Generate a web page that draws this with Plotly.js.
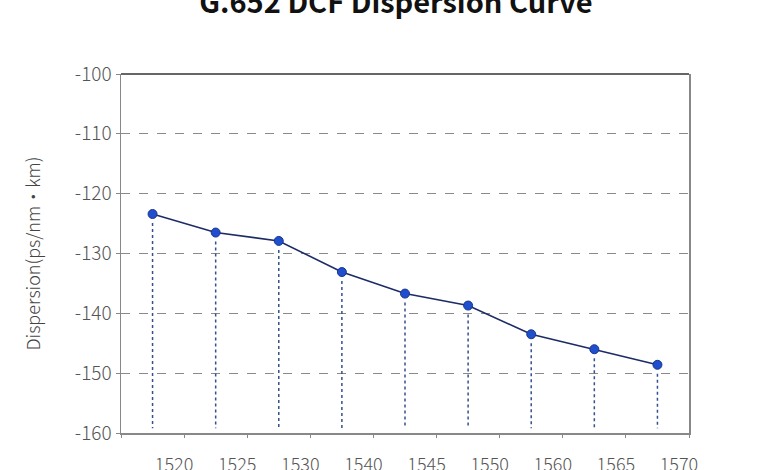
<!DOCTYPE html>
<html>
<head>
<meta charset="utf-8">
<script src="https://cdn.plot.ly/plotly-3.0.1.min.js"></script>
<style>html,body{margin:0;padding:0;background:#fff;}#chart{width:768px;height:470px;}</style>
</head>
<body>
<div id="chart"></div>
<script>
const wavelengths = ["1520", "1525", "1530", "1540", "1545", "1550", "1560", "1565", "1570"];
const dispersion = [-123.4, -126.5, -127.9, -133.1, -136.7, -138.7, -143.5, -146.0, -148.6];
const yTicks = [-160, -150, -140, -130, -120, -110, -100];

const idx = wavelengths.map((_, i) => i);

// vertical dotted drop lines from each point to the axis
const dropX = [], dropY = [];
idx.forEach((i) => {
  dropX.push(i, i, null);
  dropY.push(dispersion[i] - 1.5, -159.2, null);
});

const traces = [
  {
    x: dropX, y: dropY, mode: 'lines', type: 'scatter',
    line: {color: '#34508f', width: 1.5, dash: 'dot'},
    hoverinfo: 'skip', showlegend: false
  },
  {
    x: idx, y: dispersion, mode: 'lines+markers', type: 'scatter',
    line: {color: '#1c2c66', width: 1.6},
    marker: {size: 9, color: '#1f4fcc', line: {color: '#1a3590', width: 1}},
    showlegend: false
  }
];

const tickPos = [-0.5].concat(idx.map(i => i + 0.5));
const tickTxt = [''].concat(wavelengths);

const layout = {
  width: 768, height: 470,
  margin: {l: 121, r: 79, t: 74, b: 37},
  paper_bgcolor: '#fff', plot_bgcolor: '#fff',
  font: {family: '"Noto Sans CJK SC", "Noto Sans", sans-serif', color: '#555'},
  title: {
    text: '<b>G.652 DCF Dispersion Curve</b>',
    font: {size: 29, color: '#111', family: '"Noto Sans CJK SC", "Noto Sans", sans-serif'},
    x: 0.484, xanchor: 'center', xref: 'paper',
    y: 1 - 13/470, yref: 'container', yanchor: 'bottom'
  },
  xaxis: {
    range: [-0.5, 8.5], tickmode: 'array', tickvals: tickPos, ticktext: tickTxt,
    showgrid: false, zeroline: false,
    showline: true, linecolor: '#888', linewidth: 1.5,
    ticks: 'outside', ticklen: 3, tickcolor: '#888', tickwidth: 1,
    ticklabelshift: -10, ticklabelstandoff: 12,
    tickfont: {size: 18, color: '#555', weight: 300}
  },
  yaxis: {
    range: [-160, -100], tickmode: 'array', tickvals: yTicks,
    ticktext: yTicks.map(v => String(v)),
    showgrid: true, gridcolor: '#8a8a8a', griddash: 'dash', gridwidth: 1,
    zeroline: false,
    showline: true, linecolor: '#888', linewidth: 1.5, mirror: true,
    ticks: 'outside', ticklen: 4, tickcolor: '#888',
    tickfont: {size: 19, color: '#555', weight: 300},
    title: {text: 'Dispersion(ps/nm·km)', font: {size: 18, color: '#444', weight: 300}, standoff: 29}
  },
  shapes: [
    {type: 'line', xref: 'paper', yref: 'paper', x0: 0, x1: 1, y0: 1, y1: 1,
     line: {color: '#333', width: 1.5}}
  ]
};

Plotly.newPlot('chart', traces, layout, {displayModeBar: false, staticPlot: true});
</script>
</body>
</html>
